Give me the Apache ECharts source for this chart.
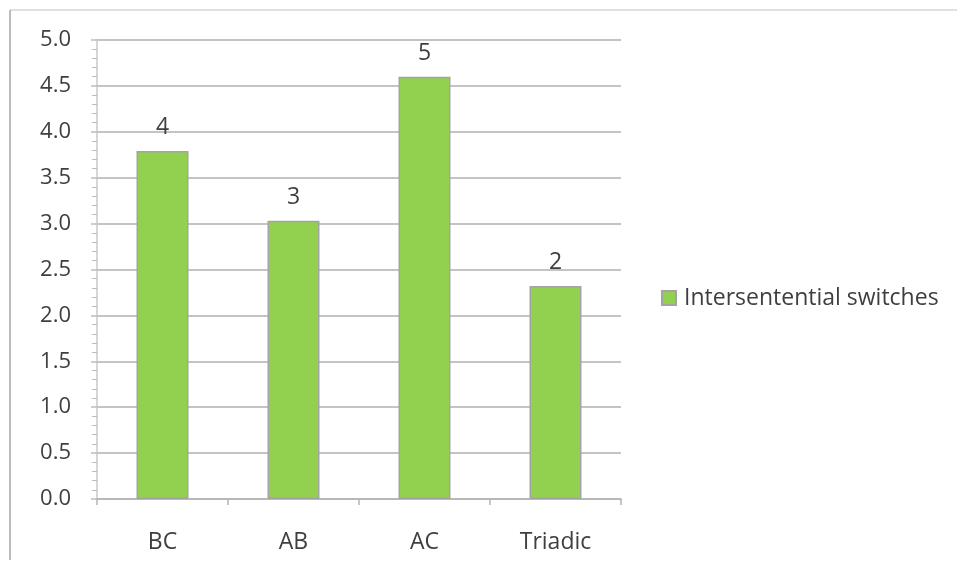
<!DOCTYPE html>
<html>
<head>
<meta charset="utf-8">
<script src="https://cdn.jsdelivr.net/npm/echarts@6/dist/echarts.min.js"></script>
<style>
  html, body { margin: 0; padding: 0; background: #fff; }
  #chart { width: 957px; height: 578px; }
</style>
</head>
<body>
<div id="chart"></div>
<script>
// Switch types and average counts of intersentential switches
const categories = ['BC', 'AB', 'AC', 'Triadic'];
const switchValues = [3.79, 3.03, 4.6, 2.32];
const seriesName = 'Intersentential switches';
const yTicks = { min: 0, max: 5, step: 0.5 };

const FONT = '"Open Sans", "Noto Sans", sans-serif';
const TEXT = '#3f3f3f';
const GRID = '#c4c4c4';

const chart = echarts.init(document.getElementById('chart'), null, { renderer: 'canvas' });

chart.setOption({
  animation: false,
  backgroundColor: '#fff',
  graphic: [
    // outer frame of the chart area
    { type: 'line', shape: { x1: 10, y1: 10, x2: 957, y2: 10 }, style: { stroke: '#d6d6d6', lineWidth: 1.5 } },
    { type: 'line', shape: { x1: 10, y1: 10, x2: 10, y2: 560 }, style: { stroke: '#a6a6a6', lineWidth: 1.5 } }
  ],
  grid: { left: 97, top: 40, right: 336, bottom: 79, containLabel: false },
  legend: {
    data: [seriesName],
    left: 656,
    top: 281,
    orient: 'vertical',
    itemWidth: 14,
    itemHeight: 14,
    icon: 'rect',
    textStyle: { fontFamily: FONT, fontSize: 23, lineHeight: 24, color: TEXT, padding: [0, 0, 0, 3] }
  },
  xAxis: {
    type: 'category',
    data: categories,
    boundaryGap: true,
    axisLine: { lineStyle: { color: '#b4b4b4', width: 1.5 } },
    axisTick: { show: true, length: 6, lineStyle: { color: '#b4b4b4', width: 1.5 } },
    axisLabel: { fontFamily: FONT, fontSize: 23, lineHeight: 23, color: TEXT, margin: 32 }
  },
  yAxis: {
    type: 'value',
    min: yTicks.min,
    max: yTicks.max,
    interval: yTicks.step,
    axisLine: { show: true, lineStyle: { color: '#c8c8c8', width: 1.5 } },
    axisTick: { show: true, length: 6, lineStyle: { color: '#bdbdbd', width: 1.5 } },
    minorTick: { show: true, splitNumber: 5, length: 5, lineStyle: { color: '#bdbdbd', width: 1 } },
    axisLabel: {
      fontFamily: FONT, fontSize: 22, color: TEXT, margin: 26,
      formatter: v => v.toFixed(1)
    },
    splitLine: { show: true, lineStyle: { color: GRID, width: 2 } }
  },
  series: [{
    name: seriesName,
    type: 'bar',
    data: switchValues,
    barWidth: 52,
    itemStyle: { color: '#92d050', borderColor: '#a3a3a3', borderWidth: 1.5 },
    label: {
      show: true,
      position: 'top',
      distance: 12,
      fontFamily: FONT,
      fontSize: 23,
      lineHeight: 23,
      color: TEXT,
      formatter: p => String(Math.round(p.value))
    }
  }]
});
</script>
</body>
</html>
